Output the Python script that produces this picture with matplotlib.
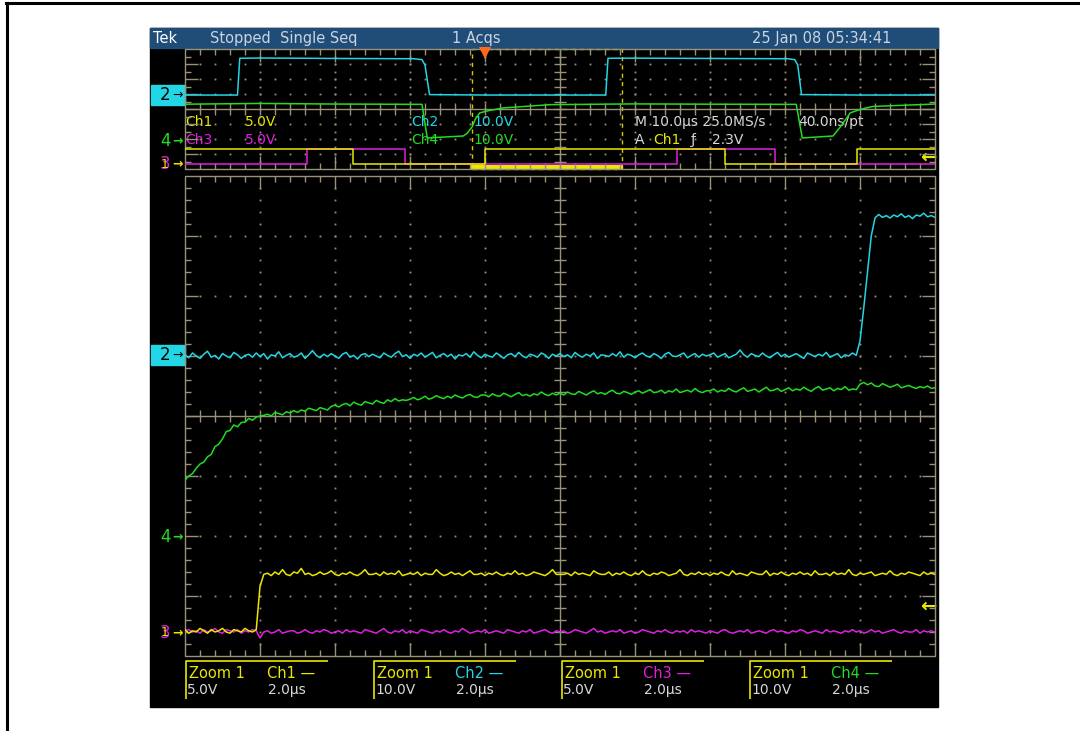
import matplotlib
matplotlib.use("Agg")
import matplotlib.pyplot as plt
import numpy as np
from matplotlib.collections import LineCollection
from matplotlib.patches import Rectangle


W, H = 1080, 731

CYAN = "#22d6e6"
GREEN = "#22dc22"
YELLOW = "#e8e800"
MAGENTA = "#e020e0"
GRID = "#9a9278"
BAR = "#204d78"
LIGHT = "#d8d8d8"

# channel settings (volts per division, vertical offset in divisions)
VDIV = {"ch1": 5.0, "ch2": 10.0, "ch3": 5.0, "ch4": 10.0}
MAIN_OFF = {"ch1": -3.6, "ch2": 1.0, "ch3": -3.6, "ch4": -2.0}
OV_OFF = {"ch1": -3.67, "ch2": 0.93, "ch3": -3.67, "ch4": -2.13}

# ---- zoom window: 0..20 us, one sample every 0.1 us (volts) ----
ch2_zoom = [
    0.2, -0.3, 0.5, 0.0, -0.4, 0.3, 0.8, -0.2, 0.1, -0.5, 0.4, 0.0, -0.3, 0.6, 0.2, -0.4, 0.1, 0.3, -0.2, 0.5,
    -0.1, 0.4, -0.5, 0.2, 0.0, 0.7, -0.3, 0.1, 0.4, -0.2, 0.0, 0.5, -0.4, 0.2, 0.9, 0.1, -0.3, 0.3, -0.1, 0.4,
    0.0, -0.4, 0.3, 0.6, -0.2, 0.1, -0.5, 0.2, 0.4, -0.1, 0.3, 0.0, -0.3, 0.5, 0.1, -0.2, 0.4, 0.8, -0.1, 0.2,
    -0.4, 0.3, 0.0, 0.5, -0.2, 0.2, 0.6, -0.3, 0.1, 0.4, -0.1, 0.3, -0.5, 0.2, 0.0, 0.4, -0.2, 0.7, 0.1, -0.3,
    0.3, 0.0, -0.2, 0.5, 0.1, -0.4, 0.2, 0.4, -0.1, 0.6, 0.0, -0.3, 0.3, 0.1, -0.2, 0.5, 0.2, -0.4, 0.3, 0.0,
    0.4, -0.1, 0.2, -0.3, 0.6, 0.1, -0.2, 0.3, 0.0, 0.5, -0.4, 0.2, 0.1, -0.1, 0.4, 0.0, 0.7, -0.2, 0.3, 0.1,
    -0.3, 0.2, 0.5, 0.0, -0.2, 0.4, 0.1, -0.4, 0.3, 0.6, 0.0, -0.1, 0.2, 0.5, -0.3, 0.1, 0.4, -0.2, 0.3, 0.0,
    0.2, 0.5, -0.2, 0.1, 0.4, -0.3, 0.0, 0.3, 1.0, 0.2, -0.2, 0.4, 0.1, -0.1, 0.5, 0.0, -0.3, 0.2, 0.6, -0.1,
    0.3, -0.2, 0.1, 0.4, 0.0, -0.4, 0.5, 0.2, -0.1, 0.3, 0.0, 0.6, -0.2, 0.1, 0.4, -0.3, 0.2, 0.0, 0.5, 0.1,
    2.5, 8.0, 14.0, 20.0, 23.0,
    23.6, 23.1, 23.4, 23.0, 23.5, 23.2, 23.7, 23.1, 23.4, 22.9, 23.5, 23.3, 23.8, 23.2, 23.4, 23.1,
]

ch4_zoom = [
    9.3, 10.0, 10.4, 11.3, 12.0, 12.3, 13.2, 13.6, 14.9, 15.3, 16.2, 17.4, 17.6, 18.5, 18.2, 18.9, 19.0, 19.6, 19.3, 19.8,
    20.0, 20.1, 20.3, 20.0, 20.6, 20.4, 20.2, 20.7, 20.5, 20.9, 20.6, 21.0, 20.8, 21.3, 21.1, 20.9, 21.4, 21.2, 21.0, 21.6,
    21.8, 21.5, 21.9, 22.1, 21.7, 22.3, 22.0, 21.8, 22.4, 22.2, 22.0, 22.6, 22.3, 22.1, 22.7, 22.4, 22.9, 22.5, 22.7, 22.6,
    22.8, 23.1, 22.7, 22.9, 23.3, 22.8, 23.0, 23.4, 23.1, 22.9, 23.3, 23.0, 23.5, 23.2, 23.0, 23.4, 23.6, 23.2, 23.1, 23.5,
    23.5, 23.2, 23.7, 23.4, 23.3, 23.8, 23.5, 23.2, 23.6, 23.9, 23.4, 23.6, 23.3, 23.7, 23.5, 24.0, 23.6, 23.4, 23.8, 23.5,
    23.8, 23.5, 24.0, 23.7, 23.6, 24.1, 23.8, 23.5, 23.9, 24.2, 23.7, 23.9, 23.6, 24.0, 24.3, 23.8, 23.7, 24.1, 23.9, 23.6,
    24.0, 24.2, 23.8, 24.1, 24.4, 23.9, 24.0, 24.3, 23.8, 24.2, 24.0, 24.5, 23.9, 24.1, 24.3, 24.0, 24.6, 24.1, 23.9, 24.2,
    24.2, 24.5, 24.0, 24.3, 24.1, 24.6, 24.2, 24.0, 24.4, 24.7, 24.1, 24.3, 24.5, 24.0, 24.4, 24.8, 24.2, 24.3, 24.6, 24.1,
    24.4, 24.7, 24.2, 24.5, 24.3, 24.8, 24.4, 24.1, 24.6, 24.9, 24.3, 24.5, 24.7, 24.2, 24.6, 24.4, 24.9, 24.3, 24.5, 24.4,
    25.3, 25.6, 25.2, 25.5, 25.0, 24.9, 25.4, 25.1, 24.8, 25.0, 25.3, 24.7, 24.9, 25.1, 24.8, 24.6, 24.9, 24.7, 25.0, 24.6, 24.7,
]

ch1_zoom = [
    0.2, -0.1, 0.1, 0.0, 0.3, 0.1, -0.1, 0.2, 0.0, 0.1, 0.3, 0.0, -0.1, 0.2, 0.1, 0.0, 0.3, 0.1, 0.0, 0.2,
    3.8,
    4.8, 4.9, 4.7, 5.0, 4.8, 5.2, 4.8, 4.7, 5.0, 4.9, 5.3, 4.8, 4.9, 4.7, 4.8, 5.0, 4.8, 4.9, 5.1, 4.8,
    4.7, 4.9, 4.8, 5.0, 4.8, 4.7, 4.9, 5.2, 4.8, 4.8, 4.9, 4.7, 5.0, 4.8, 4.9, 4.8, 5.1, 4.7, 4.8, 4.9,
    4.8, 5.0, 4.7, 4.9, 4.8, 4.8, 5.2, 4.9, 4.7, 4.8, 5.0, 4.8, 4.9, 4.7, 4.9, 5.1, 4.8, 4.8, 4.9, 4.7,
    4.9, 4.8, 5.0, 4.8, 4.7, 4.9, 4.8, 5.1, 4.8, 4.9, 4.7, 4.8, 5.0, 4.9, 4.8, 4.7, 4.9, 5.2, 4.8, 4.8,
    4.8, 4.9, 4.7, 5.0, 4.8, 4.9, 4.8, 4.7, 5.1, 4.9, 4.8, 4.8, 5.0, 4.7, 4.9, 4.8, 5.0, 4.8, 4.7, 4.9,
    4.8, 5.1, 4.8, 4.7, 4.9, 4.8, 5.0, 4.9, 4.7, 4.8, 4.9, 5.2, 4.8, 4.7, 4.9, 4.8, 5.0, 4.8, 4.9, 4.7,
    4.9, 4.8, 5.0, 4.8, 4.7, 5.1, 4.8, 4.9, 4.8, 4.7, 5.0, 4.9, 4.8, 4.8, 5.1, 4.7, 4.9, 4.8, 5.0, 4.8,
    4.7, 4.9, 4.8, 5.0, 4.8, 4.9, 4.7, 5.1, 4.8, 4.8, 4.9, 4.7, 5.0, 4.8, 4.9, 4.8, 5.2, 4.8, 4.7, 4.9,
    4.8, 4.9, 5.0, 4.7, 4.8, 4.9, 4.8, 5.1, 4.8, 4.7, 4.9, 4.8, 5.0, 4.9, 4.8, 4.7, 5.0, 4.8, 4.9, 4.8,
]

ch3_zoom = [
    0.1, 0.2, 0.0, 0.1, -0.1, 0.2, 0.0, 0.1, 0.3, 0.0, -0.1, 0.2, 0.1, 0.0, 0.2, -0.1, 0.1, 0.0, 0.2, 0.1,
    -0.5, 0.0, 0.1, -0.1, 0.0, 0.2, -0.1, 0.0, 0.1, 0.1, -0.1, 0.0, 0.2, 0.0, -0.1, 0.1, 0.0, 0.2, 0.1, -0.1,
    0.0, 0.1, -0.1, 0.2, 0.0, 0.1, 0.0, -0.1, 0.2, 0.1, 0.0, -0.1, 0.1, 0.3, 0.0, -0.1, 0.1, 0.0, 0.2, -0.1,
    0.1, 0.0, -0.1, 0.2, 0.1, 0.0, -0.1, 0.1, 0.0, 0.2, 0.0, -0.1, 0.1, 0.0, 0.3, 0.1, -0.1, 0.0, 0.1, 0.0,
    0.2, -0.1, 0.0, 0.1, 0.0, -0.1, 0.2, 0.1, 0.0, -0.1, 0.1, 0.0, 0.2, -0.1, 0.0, 0.1, 0.2, 0.0, -0.1, 0.1,
    0.0, 0.1, -0.1, 0.0, 0.2, 0.1, 0.0, -0.1, 0.1, 0.3, 0.0, 0.1, -0.1, 0.0, 0.1, 0.0, 0.2, -0.1, 0.0, 0.1,
    -0.1, 0.0, 0.2, 0.1, 0.0, -0.1, 0.1, 0.0, 0.2, 0.0, -0.1, 0.1, 0.0, 0.1, -0.1, 0.2, 0.0, 0.1, 0.0, -0.1,
    0.1, 0.0, -0.1, 0.1, 0.2, 0.0, -0.1, 0.0, 0.1, 0.0, 0.2, -0.1, 0.0, 0.1, 0.0, -0.1, 0.1, 0.2, 0.0, 0.1,
    0.0, -0.1, 0.1, 0.0, 0.2, 0.1, -0.1, 0.0, 0.1, 0.0, -0.1, 0.2, 0.0, 0.1, 0.0, -0.1, 0.1, 0.0, 0.2, 0.0,
    0.1, -0.1, 0.0, 0.2, 0.0, 0.1, -0.1, 0.0, 0.1, 0.2, 0.0, -0.1, 0.1, 0.0, 0.0, 0.2, -0.1, 0.1, 0.0, 0.1,
    0.0,
]

# ---- overview record: 0..100 us, corner points (us, volts) ----
ch2_ov_t = [0, 7.0, 7.3, 10, 20, 30.5, 31.6, 32.0, 32.6, 40, 56.1, 56.4, 60, 70, 80.4, 81.3, 81.7, 82.2, 90, 100]
ch2_ov_v = [0, 0, 24.5, 24.7, 24.4, 24.2, 23.6, 20.0, 0.3, 0.0, 0.0, 24.5, 24.6, 24.4, 24.2, 23.6, 20.0, 0.3, 0.0, 0.0]

ch4_ov_t = [0, 10, 20, 31.6, 32.3, 37.1, 37.6, 38.3, 38.7, 39.3, 40.3, 42.4, 48.7, 60, 70, 81.5, 82.3, 86.4, 87.4, 88.7, 90.0, 91.7, 100]
ch4_ov_v = [24.5, 25.0, 24.6, 24.4, 2.0, 3.3, 5.0, 9.5, 14.5, 18.7, 20.0, 22.0, 24.2, 24.7, 24.5, 24.4, 2.0, 3.3, 9.5, 18.7, 21.0, 23.0, 24.6]

ch1_ov_t = [0, 22.4, 22.4, 40.0, 40.0, 72.0, 72.0, 89.6, 89.6, 100]
ch1_ov_v = [5, 5, 0, 0, 5, 5, 0, 0, 5, 5]

ch3_ov_t = [0, 16.3, 16.3, 29.3, 29.3, 65.6, 65.6, 78.7, 78.7, 100]
ch3_ov_v = [0, 0, 5, 5, 0, 0, 5, 5, 0, 0]

ZOOM_START, ZOOM_SPAN = 38.3, 20.0
TRIG_T = 40.0

bottom_labels = [("Ch1", "5.0V", YELLOW), ("Ch2", "10.0V", CYAN), ("Ch3", "5.0V", MAGENTA), ("Ch4", "10.0V", GREEN)]


def graticule(ax, t_div, px_x, px_y, minor_y):
    span = 10 * t_div
    kw = dict(color=GRID, lw=1.0, clip_on=False, solid_capstyle="butt")
    ax.plot([0, span, span, 0, 0], [-4, -4, 4, 4, -4], **kw)
    ax.plot([5 * t_div] * 2, [-4, 4], **kw)
    ax.plot([0, span], [0, 0], **kw)
    segs = []
    dx = t_div / 5
    for i in range(1, 50):
        x = i * dx
        ly = (13 if i % 5 == 0 else 6) / px_y
        segs.append([(x, 4), (x, 4 - ly)])
        segs.append([(x, -4), (x, -4 + ly)])
        segs.append([(x, -6 / px_y), (x, 6 / px_y)])
    dy = 1 / minor_y
    for j in range(1, 8 * minor_y):
        y = -4 + j * dy
        lx = (13 if j % minor_y == 0 else 6) / px_x * t_div
        segs.append([(0, y), (lx, y)])
        segs.append([(span, y), (span - lx, y)])
        segs.append([(5 * t_div - 6 / px_x * t_div, y), (5 * t_div + 6 / px_x * t_div, y)])
    ax.add_collection(LineCollection(segs, colors=GRID, linewidths=1.0, clip_on=False))
    # dotted division lines
    dots_x, dots_y = [], []
    for k in range(1, 10):
        if k == 5:
            continue
        for j in range(1, 8 * minor_y):
            dots_x.append(k * t_div)
            dots_y.append(-4 + j * dy)
    for m in range(-3, 4):
        if m == 0:
            continue
        for i in range(1, 50):
            dots_x.append(i * dx)
            dots_y.append(m)
    ax.plot(dots_x, dots_y, ls="none", marker="s", ms=1.3, mew=0, color=GRID)


def px_axes(fig, x0, y0, x1, y1):
    ax = fig.add_axes([x0 / W, 1 - y1 / H, (x1 - x0) / W, (y1 - y0) / H])
    ax.axis("off")
    return ax


def main() -> None:
    plt.rcParams["font.family"] = ["DejaVu Sans"]
    fig = plt.figure(figsize=(W / 100, H / 100), dpi=100, facecolor="white")

    bg = fig.add_axes([0, 0, 1, 1])
    bg.set_xlim(0, W)
    bg.set_ylim(H, 0)
    bg.axis("off")

    # page border and scope screen
    bg.plot([7, 7], [3, H], color="black", lw=2.2)
    bg.plot([6, W], [3, 3], color="black", lw=2.2)
    bg.add_patch(Rectangle((150, 28), 788, 679, color="black"))
    bg.add_patch(Rectangle((150, 28), 788, 20, color=BAR))
    tb = dict(fontsize=10.5, color="#c8d4e0", va="center", ha="left")
    bg.text(153, 38.5, "Tek", **{**tb, "color": "white"})
    bg.text(210, 38.5, "Stopped  Single Seq", **tb)
    bg.text(452, 38.5, "1 Acqs", **tb)
    bg.text(752, 38.5, "25 Jan 08 05:34:41", **tb)

    # overview readouts
    rd = dict(fontsize=10, va="center", ha="left")
    bg.text(185, 122, "Ch1", color=YELLOW, **rd)
    bg.text(245, 122, "5.0V", color=YELLOW, **rd)
    bg.text(185, 140, "Ch3", color=MAGENTA, **rd)
    bg.text(245, 140, "5.0V", color=MAGENTA, **rd)
    bg.text(411, 122, "Ch2", color=CYAN, **rd)
    bg.text(473, 122, "10.0V", color=CYAN, **rd)
    bg.text(411, 140, "Ch4", color=GREEN, **rd)
    bg.text(473, 140, "10.0V", color=GREEN, **rd)
    bg.text(635, 122, "M 10.0\u03bcs 25.0MS/s", color=LIGHT, **rd)
    bg.text(798, 122, "40.0ns/pt", color=LIGHT, **rd)
    bg.text(635, 140, "A", color=LIGHT, **rd)
    bg.text(653, 140, "Ch1", color=YELLOW, **rd)
    bg.text(691, 140, "\u0192", color=LIGHT, **rd)
    bg.text(712, 140, "2.3V", color=LIGHT, **rd)

    # channel ground markers
    mk = dict(fontsize=12, va="center", ha="left")
    for y in (95, 355):
        bg.add_patch(Rectangle((151, y - 10), 34, 20, color=CYAN))
        bg.text(160, y, "2", color="black", **mk)
        bg.text(172, y, "\u2192", color="black", fontsize=9, va="center", ha="left")
    for y in (141, 537):
        bg.text(160, y, "4", color=GREEN, **mk)
        bg.text(172, y, "\u2192", color=GREEN, fontsize=9, va="center", ha="left", fontweight="bold")
    for y in (164, 633):
        bg.text(160, y, "3", color=MAGENTA, **mk)
        bg.text(161, y, "1", color=YELLOW, fontsize=9, va="center", ha="left")
        bg.text(172, y, "\u2192", color=YELLOW, fontsize=9, va="center", ha="left", fontweight="bold")
    for y in (157, 606):
        bg.text(936, y, "\u2190", color=YELLOW, fontsize=14, va="center", ha="right", fontweight="bold")

    # bottom zoom readouts
    for i, (ch, vd, col) in enumerate(bottom_labels):
        x0 = 186 + 188 * i
        bg.plot([x0 + 142, x0, x0], [661, 661, 699], color=YELLOW, lw=1.2, solid_capstyle="butt")
        bg.text(x0 + 3, 673, "Zoom 1", color=YELLOW, fontsize=10.5, va="center", ha="left")
        bg.text(x0 + 81, 673, f"{ch} \u2014", color=col, fontsize=10.5, va="center", ha="left")
        bg.text(x0 + 1, 690, vd, color=LIGHT, **rd)
        bg.text(x0 + 82, 690, "2.0\u03bcs", color=LIGHT, **rd)

    # overview record
    ov = px_axes(fig, 185, 49, 935, 169)
    ov.set_xlim(0, 100)
    ov.set_ylim(-4, 4)
    graticule(ov, 10.0, 75, 15, 2)
    ov.add_patch(Rectangle((ZOOM_START, -4), ZOOM_SPAN, 8, fill=False, ec="#d8c400",
                           ls=(0, (3, 3)), lw=1.0, clip_on=False))
    ov.plot(ch3_ov_t, OV_OFF["ch3"] + np.array(ch3_ov_v) / VDIV["ch3"], color=MAGENTA, lw=1.1)
    ov.plot(ch1_ov_t, OV_OFF["ch1"] + np.array(ch1_ov_v) / VDIV["ch1"], color=YELLOW, lw=1.1)
    ov.plot(ch4_ov_t, OV_OFF["ch4"] + np.array(ch4_ov_v) / VDIV["ch4"], color=GREEN, lw=1.1)
    ov.plot(ch2_ov_t, OV_OFF["ch2"] + np.array(ch2_ov_v) / VDIV["ch2"], color=CYAN, lw=1.1)
    ov.fill_between([ZOOM_START - 0.2, ZOOM_START + ZOOM_SPAN + 0.1], -4.05, -3.72, color=YELLOW,
                    lw=0, clip_on=False)
    ov.plot([TRIG_T], [3.72], marker="v", ms=9, color="#ff6a1a", mew=0, clip_on=False)

    # zoomed window
    zm = px_axes(fig, 185, 176, 935, 656)
    zm.set_xlim(0, 20)
    zm.set_ylim(-4, 4)
    graticule(zm, 2.0, 75, 60, 5)
    for name, vals, col in (("ch3", ch3_zoom, MAGENTA), ("ch1", ch1_zoom, YELLOW),
                            ("ch4", ch4_zoom, GREEN), ("ch2", ch2_zoom, CYAN)):
        t = np.linspace(0, ZOOM_SPAN, len(vals))
        zm.plot(t, MAIN_OFF[name] + np.array(vals) / VDIV[name], color=col, lw=1.1)

    fig.savefig("out.png", dpi=100, facecolor="white")
    plt.close(fig)


if __name__ == "__main__":
    main()
